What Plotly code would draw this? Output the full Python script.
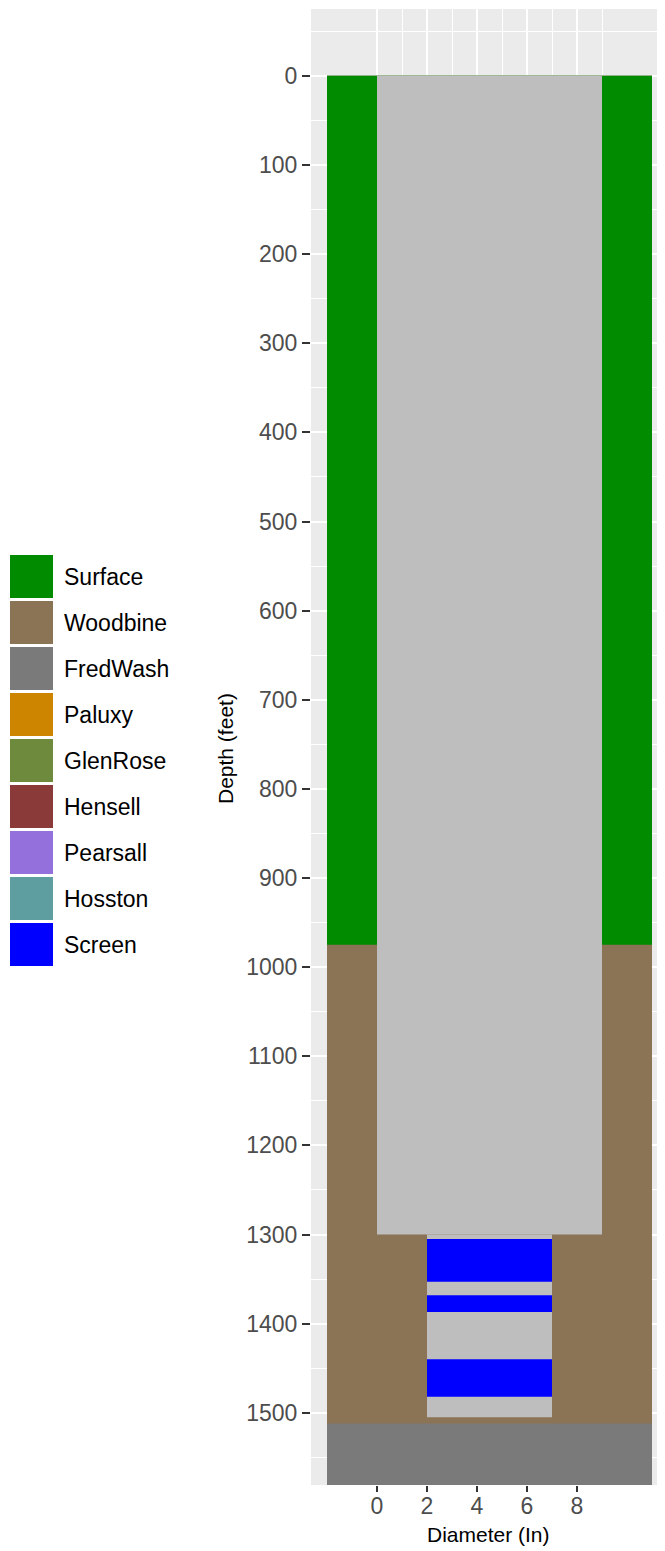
import plotly.graph_objects as go

# formations (full hole width)
formation_names = ["Surface", "Woodbine", "FredWash"]
formation_top = [0, 975, 1512]
formation_bottom = [975, 1512, 1600]
formation_left = [-2, -2, -2]
formation_right = [11, 11, 11]

# casing (blank pipe)
casing_top = [0, 1300]
casing_bottom = [1300, 1505]
casing_left = [0, 2]
casing_right = [9, 7]

# screened intervals
screen_top = [1305, 1368, 1440]
screen_bottom = [1353, 1387, 1482]
screen_left = [2, 2, 2]
screen_right = [7, 7, 7]

legend_names = ["Surface", "Woodbine", "FredWash", "Paluxy", "GlenRose",
                "Hensell", "Pearsall", "Hosston", "Screen"]
legend_colors = ["#008B00", "#8B7355", "#7A7A7A", "#CD8500", "#6E8B3D",
                 "#8B3A3A", "#9370DB", "#5F9EA0", "#0000FF"]
color_of = dict(zip(legend_names, legend_colors))
casing_color = "#BEBEBE"

x_ticks = [0, 2, 4, 6, 8]
x_minor = [1, 3, 5, 7, 9]

# page has an 8px body margin, so the figure is drawn 8px in
W, H = 657, 1543
FONT = "Liberation Sans, Arial, sans-serif"


def rect_bar(tops, bottoms, lefts, rights, colors):
    return go.Bar(
        x=[(l + r) / 2 for l, r in zip(lefts, rights)],
        width=[r - l for l, r in zip(lefts, rights)],
        base=tops,
        y=[b - t for t, b in zip(tops, bottoms)],
        marker=dict(color=colors, line=dict(width=0)),
        showlegend=False, hoverinfo="skip")


fig = go.Figure()
# formations painted deepest first, each from the surface down to its bottom,
# so neighbouring layers have no anti-aliased seam between them
surface = min(formation_top)
for name, bot, l, r in reversed(list(zip(formation_names, formation_bottom,
                                         formation_left, formation_right))):
    fig.add_trace(rect_bar([surface], [bot], [l], [r], [color_of[name]]))
fig.add_trace(rect_bar(casing_top, casing_bottom, casing_left, casing_right,
                       [casing_color] * len(casing_top)))
fig.add_trace(rect_bar(screen_top, screen_bottom, screen_left, screen_right,
                       [color_of["Screen"]] * len(screen_top)))

# plot area in pixels
top_m, bot_m = 1, 66
plot_h = H - top_m - bot_m
left_px = 303


def py(pix):
    return 1 - (pix - top_m) / plot_h


# hand-made legend with big square keys
key_top0, key_step, key_h = 547, 46, 43
for i, (name, col) in enumerate(zip(legend_names, legend_colors)):
    t = key_top0 + i * key_step
    fig.add_shape(type="rect", xref="paper", yref="paper",
                  x0=2 / W, x1=45 / W, y0=py(t + key_h), y1=py(t),
                  fillcolor=col, line=dict(width=0), layer="above")
    fig.add_annotation(xref="paper", yref="paper", x=54 / W, y=py(t + key_h / 2),
                       text=name, showarrow=False, xanchor="left", yanchor="middle",
                       font=dict(size=23, color="black", family=FONT))

# axis titles
fig.add_annotation(xref="paper", yref="paper", x=(1 + (left_px + 8) / W) / 2 - 4 / W,
                   y=py(1527), text="Diameter (In)", showarrow=False,
                   xanchor="center", yanchor="middle",
                   font=dict(size=21, color="black", family=FONT))
fig.add_annotation(xref="paper", yref="paper", x=218 / W, y=py(741),
                   text="Depth (feet)", showarrow=False, textangle=-90,
                   xanchor="center", yanchor="middle",
                   font=dict(size=21, color="black", family=FONT))

fig.update_layout(
    width=W, height=H,
    margin=dict(l=0, r=0, t=top_m, b=bot_m),
    barmode="overlay",
    plot_bgcolor="#EBEBEB", paper_bgcolor="white",
    font=dict(family=FONT),
    showlegend=False,
    xaxis=dict(domain=[left_px / W, 1], range=[-2.64, 11.52],
               tickvals=x_ticks, ticks="outside", ticklen=6, tickwidth=2,
               tickcolor="#333333", tickfont=dict(size=23, color="#4D4D4D"),
               ticklabelstandoff=-6,
               showgrid=True, gridcolor="white", gridwidth=2, zeroline=False,
               minor=dict(tickvals=x_minor, showgrid=True, gridcolor="white", gridwidth=1),
               automargin=False),
    yaxis=dict(range=[1581, -75], tick0=0, dtick=100, ticks="outside", ticklen=8,
               tickwidth=2, tickcolor="#333333", tickfont=dict(size=23, color="#4D4D4D"),
               showgrid=True, gridcolor="white", gridwidth=2, zeroline=False,
               minor=dict(tick0=-50, dtick=100, showgrid=True, gridcolor="white", gridwidth=1),
               automargin=False),
)

fig.write_html("out.html")
